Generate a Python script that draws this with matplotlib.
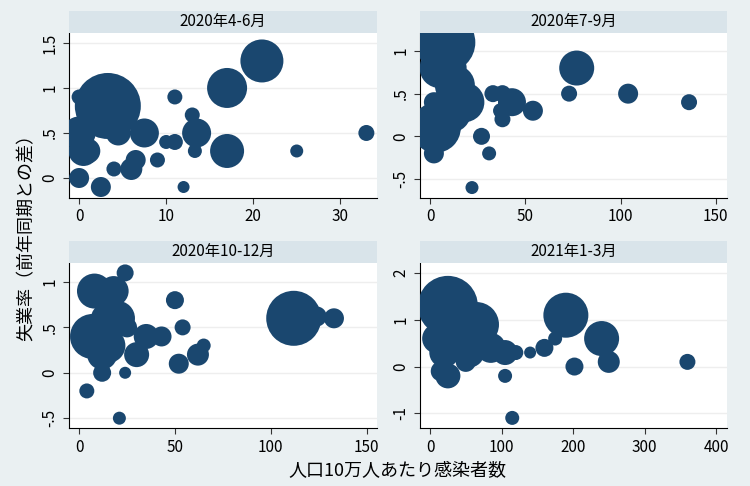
import matplotlib.pyplot as plt
from matplotlib.patches import Rectangle

plt.rcParams['font.family'] = ['Noto Sans CJK JP', 'DejaVu Sans']

# panel 1: 2020 Apr-Jun  (x, y, bubble diameter in px)
p1_x = [3.3, 21, 17, 17, 0, 7.5, 13.5, 0.5, 0, 11, 13, 33, 25, 12, 2.5, 0, 9, 6, 4, 13.3, 11, 10, 6.5, 1, 4.5, 2, 5]
p1_y = [0.8, 1.3, 1.0, 0.3, 0.5, 0.5, 0.5, 0.3, 0.9, 0.9, 0.7, 0.5, 0.3, -0.1, -0.1, 0, 0.2, 0.1, 0.1, 0.3, 0.4, 0.4, 0.2, 0.3, 0.5, 0.9, 0.8]
p1_d = [66, 43, 40, 34, 33, 29, 29, 30, 15, 15, 15, 16, 13, 12, 20, 20, 15, 22, 15, 14, 16, 14, 20, 25, 25, 20, 25]

p2_x = [8, 5, 10, 3, 10, 18, 2, 2, 27, 31, 22, 33, 38, 43, 37, 38, 54, 77, 73, 104, 136, 13]
p2_y = [1.1, 0.8, 0.8, 0.1, 0.3, 0.4, 0.4, -0.2, 0, -0.2, -0.6, 0.5, 0.5, 0.4, 0.3, 0.2, 0.3, 0.8, 0.5, 0.5, 0.4, 0.6]
p2_d = [60, 40, 35, 50, 45, 40, 20, 20, 17, 14, 13, 17, 17, 28, 15, 16, 20, 35, 16, 20, 16, 40]

p3_x = [8, 18, 7, 14, 20, 15, 12, 24, 25, 30, 35, 43, 50, 54, 52, 62, 65, 112, 124, 133, 12, 24, 4, 21]
p3_y = [0.9, 0.9, 0.4, 0.6, 0.6, 0.3, 0.2, 1.1, 0.5, 0.2, 0.4, 0.4, 0.8, 0.5, 0.1, 0.2, 0.3, 0.6, 0.62, 0.6, 0, 0, -0.2, -0.5]
p3_d = [35, 30, 45, 30, 35, 35, 30, 17, 20, 25, 25, 20, 18, 16, 20, 22, 14, 55, 20, 20, 18, 12, 15, 13]

p4_x = [25, 65, 10, 40, 20, 55, 15, 25, 85, 105, 120, 140, 160, 175, 190, 240, 250, 202, 360, 105, 115, 50]
p4_y = [1.3, 0.9, 0.6, 0.6, 0.3, 0.3, -0.1, -0.2, 0.4, 0.3, 0.3, 0.3, 0.4, 0.6, 1.1, 0.6, 0.1, 0, 0.1, -0.2, -1.1, 0.1]
p4_d = [60, 45, 30, 35, 30, 30, 20, 25, 30, 25, 15, 12, 18, 14, 45, 35, 22, 18, 16, 14, 14, 20]

titles = ['2020年4-6月', '2020年7-9月', '2020年10-12月', '2021年1-3月']
panels = [
    (p1_x, p1_y, p1_d, (-1.16, 34.25), (-0.22, 1.61), [0, 10, 20, 30], [0, 0.5, 1, 1.5], ['0', '.5', '1', '1.5']),
    (p2_x, p2_y, p2_d, (-5.3, 155.8), (-0.72, 1.21), [0, 50, 100, 150], [-0.5, 0, 0.5, 1], ['-.5', '0', '.5', '1']),
    (p3_x, p3_y, p3_d, (-5.3, 155.6), (-0.61, 1.21), [0, 50, 100, 150], [-0.5, 0, 0.5, 1], ['-.5', '0', '.5', '1']),
    (p4_x, p4_y, p4_d, (-14, 415), (-1.32, 2.22), [0, 100, 200, 300, 400], [-1, 0, 1, 2], ['-1', '0', '1', '2']),
]
rects = [(0.092, 0.593, 0.411, 0.339), (0.56, 0.593, 0.409, 0.339),
         (0.092, 0.119, 0.411, 0.34), (0.56, 0.119, 0.409, 0.34)]

fig = plt.figure(figsize=(7.5, 4.86), dpi=100, facecolor='#eaf0f2')
for (x, y, d, xl, yl, xt, yt, ytl), r, t in zip(panels, rects, titles):
    ax = fig.add_axes(r)
    ax.set_facecolor('white')
    s = [(v * 0.72) ** 2 for v in d]
    ax.scatter(x, y, s=s, color='#1a476f', linewidths=0, zorder=3)
    ax.set_xlim(*xl)
    ax.set_ylim(*yl)
    ax.set_xticks(xt)
    ax.set_yticks(yt)
    ax.set_yticklabels(ytl, rotation=90, va='center')
    ax.tick_params(labelsize=11, color='#333333', length=4)
    ax.grid(axis='y', color='#eeeeee', lw=1, zorder=0)
    for side in ['top', 'right']:
        ax.spines[side].set_visible(False)
    # panel header strip
    fig.patches.append(Rectangle((r[0], r[1] + r[3]), r[2], 0.046, transform=fig.transFigure,
                                 facecolor='#d9e4ea', edgecolor='none'))
    fig.text(r[0] + r[2] / 2, r[1] + r[3] + 0.023, t, ha='center', va='center', fontsize=11)

fig.text(0.035, 0.52, '失業率（前年同期との差）', rotation=90, ha='center', va='center', fontsize=13)
fig.text(0.53, 0.03, '人口10万人あたり感染者数', ha='center', va='center', fontsize=13)

fig.savefig('out.png', dpi=100, facecolor=fig.get_facecolor())
